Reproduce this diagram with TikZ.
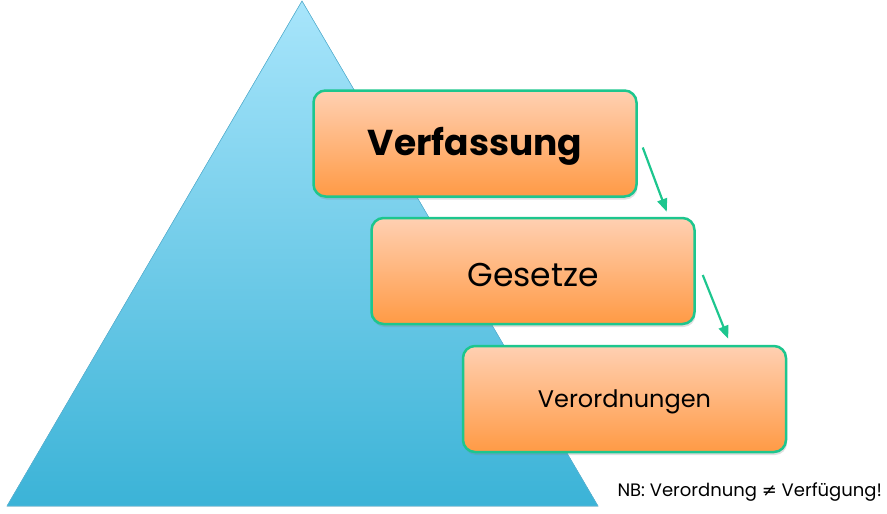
\documentclass[tikz,border=0pt]{standalone}
\usepackage{fontspec}
\setmainfont{Poppins}
\newfontfamily\symfnt{DejaVu Sans}
\usetikzlibrary{arrows.meta,calc,shadows}
\definecolor{boxline}{HTML}{1DC68E}
\definecolor{boxtop}{HTML}{FFD0B2}
\definecolor{boxbot}{HTML}{FF9A45}
\definecolor{tritop}{HTML}{A8E5FB}
\definecolor{tribot}{HTML}{3BB3D7}
\definecolor{triedge}{HTML}{5AB8DA}
\begin{document}
\begin{tikzpicture}[x=1pt,y=-1pt,
  lvl/.style={draw=boxline, line width=2.5pt, rounded corners=12pt,
    top color=boxtop, bottom color=boxbot,
    minimum width=323pt, minimum height=106pt, inner sep=0pt, text=black,
    drop shadow={opacity=0.25, shadow xshift=1pt, shadow yshift=-3pt}},
  lbl/.style={text=black, inner sep=0pt},
  conn/.style={draw=boxline, line width=2.2pt, -{Triangle[length=13pt,width=10pt]}}]
\useasboundingbox (0,0) rectangle (887,514);
\coordinate (apex) at (302,1);
\coordinate (bl) at (7,506);
\coordinate (br) at (598,506);
\fill[top color=tritop, bottom color=tribot, draw=triedge, line width=0.6pt]
  (apex) -- (br) -- (bl) -- cycle;
\node[lvl, label={[lbl, yshift=-3pt, font=\bfseries\fontsize{36}{40}\selectfont]center:Verfassung}] (verf) at (475,143.5) {};
\node[lvl, label={[lbl, yshift=-4pt, font=\fontsize{33}{40}\selectfont]center:Gesetze}] (ges) at (533,271) {};
\node[lvl, label={[lbl, yshift=-3pt, font=\fontsize{24}{28}\selectfont]center:Verordnungen}] (vo) at (624.5,399) {};
\node[anchor=west, font=\fontsize{18}{22}\selectfont, text=black] (nb) at (614,492)
  {NB: Verordnung {\symfnt ≠} Verfügung!};
\draw[conn] ($(verf.east)+(5,4)$) -- ($(ges.north east)+(-29,-5)$);
\draw[conn] ($(ges.east)+(7,4)$) -- ($(vo.north east)+(-59,-6)$);
\end{tikzpicture}
\end{document}
